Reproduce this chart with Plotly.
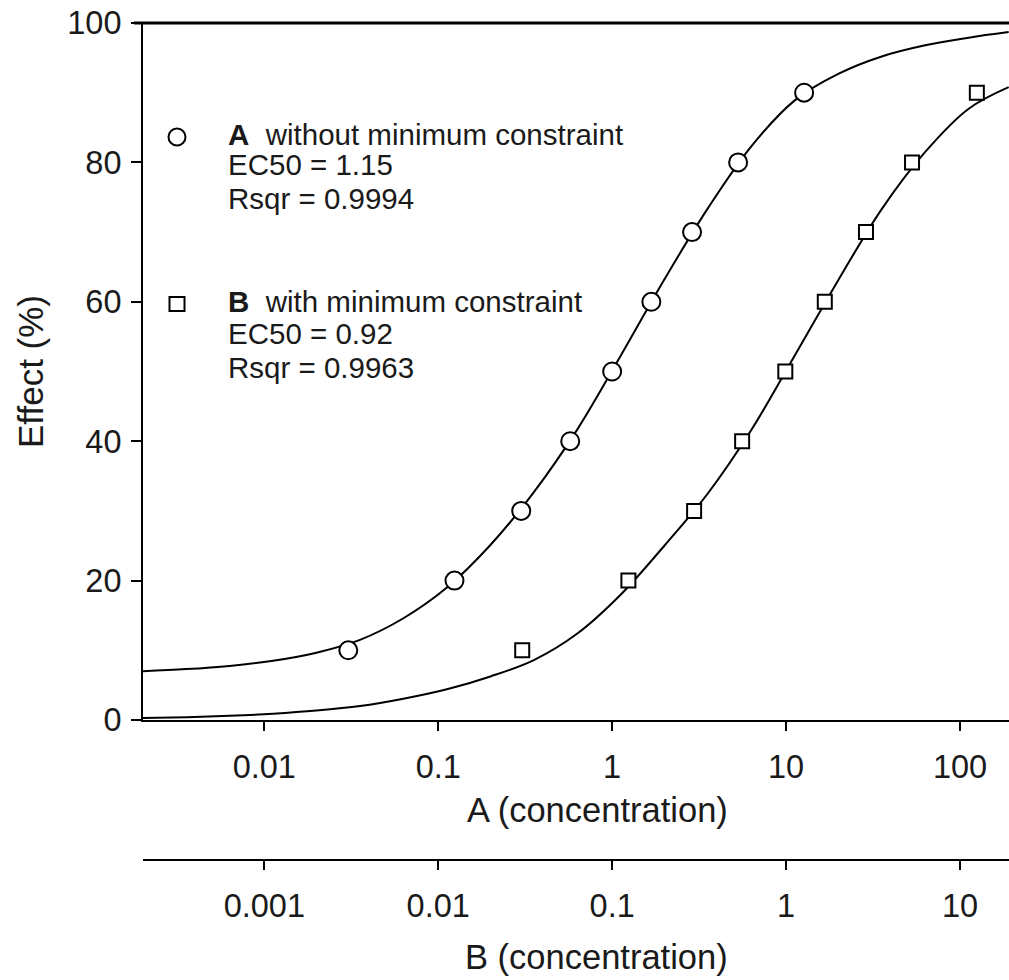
import plotly.graph_objects as go

# ---------------- data ----------------
effect_levels = [10, 20, 30, 40, 50, 60, 70, 80, 90]

# Data set A (plotted on the A concentration axis)
a_conc = [0.0304, 0.124, 0.30, 0.574, 1.0, 1.68, 2.88, 5.3, 12.7]
a_effect = effect_levels

# Data set B (plotted on the B concentration axis)
b_conc = [0.0304, 0.124, 0.296, 0.559, 0.99, 1.67, 2.88, 5.3, 12.5]
b_effect = effect_levels

# Fitted curve A (without minimum constraint)
a_fit_conc = [0.001995, 0.003548, 0.00631, 0.01122, 0.01995, 0.03548, 0.0631,
              0.1122, 0.1995, 0.3548, 0.631, 1.122, 1.995, 3.548, 6.31, 11.22,
              19.95, 35.48, 63.1, 112.2, 190.5]
a_fit_effect = [7.0, 7.3, 7.76, 8.5, 9.66, 11.5, 14.6,
                19.0, 25.1, 32.7, 41.7, 52.3, 63.2, 73.4, 82.3, 88.9,
                92.7, 95.2, 96.8, 97.9, 98.7]

# Fitted curve B (with minimum constraint)
b_fit_conc = [0.0001995, 0.0003548, 0.000631, 0.001122, 0.001995, 0.003548, 0.00631,
              0.01122, 0.01995, 0.03548, 0.0631, 0.1122, 0.1995, 0.3548, 0.631,
              1.122, 1.995, 3.548, 6.31, 11.22, 19.05]
b_fit_effect = [0.27, 0.40, 0.60, 0.90, 1.35, 2.0, 3.05,
                4.4, 6.25, 8.6, 12.4, 18.0, 25.0, 32.5, 41.6,
                52.3, 63.1, 73.3, 81.5, 87.7, 90.8]

a_tickvals = [0.01, 0.1, 1, 10, 100]
a_ticktext = ["0.01", "0.1", "1", "10", "100"]
b_tickvals = [0.001, 0.01, 0.1, 1, 10]
b_ticktext = ["0.001", "0.01", "0.1", "1", "10"]
y_tickvals = [0, 20, 40, 60, 80, 100]

legend_a = ["<b>A</b>  without minimum constraint", "EC50 = 1.15", "Rsqr = 0.9994"]
legend_b = ["<b>B</b>  with minimum constraint", "EC50 = 0.92", "Rsqr = 0.9963"]

# ---------------- layout geometry ----------------
W, H = 1009, 980
ML, MR, MT, MB = 143, 0, 23, 0
PW, PH = W - ML - MR, H - MT - MB


def px_x(px):
    return (px - ML) / PW


def px_y(py):
    return (H - MB - py) / PH


FONT = "Liberation Sans, Arial, sans-serif"
TXT = "#1a1a1a"

fig = go.Figure()

# fitted curves
fig.add_trace(go.Scatter(x=a_fit_conc, y=a_fit_effect, mode="lines",
                         line=dict(color="black", width=2, shape="spline", smoothing=1.0),
                         xaxis="x", yaxis="y", showlegend=False, hoverinfo="skip"))
fig.add_trace(go.Scatter(x=b_fit_conc, y=b_fit_effect, mode="lines",
                         line=dict(color="black", width=2, shape="spline", smoothing=1.0),
                         xaxis="x2", yaxis="y", showlegend=False, hoverinfo="skip"))

# data points
fig.add_trace(go.Scatter(x=a_conc, y=a_effect, mode="markers",
                         marker=dict(symbol="circle", size=18, color="white",
                                     line=dict(color="black", width=2)),
                         xaxis="x", yaxis="y", showlegend=False))
fig.add_trace(go.Scatter(x=b_conc, y=b_effect, mode="markers",
                         marker=dict(symbol="square", size=14, color="white",
                                     line=dict(color="black", width=2)),
                         xaxis="x2", yaxis="y", showlegend=False))

y_bottom = px_y(720)
x2_pos = px_y(860)

axis_common = dict(type="log", showgrid=False, zeroline=False, showline=True,
                   linecolor="black", linewidth=2, ticks="outside", ticklen=9,
                   tickwidth=2, tickcolor="black",
                   tickfont=dict(family=FONT, size=32.5, color=TXT),
                   automargin=False, ticklabelstandoff=8, ticklabeloverflow="allow")

fig.update_layout(
    width=W, height=H,
    margin=dict(l=ML, r=MR, t=MT, b=MB),
    paper_bgcolor="white", plot_bgcolor="white",
    template="none",
    showlegend=False,
    xaxis=dict(range=[-2.6975, 2.2818], tickvals=a_tickvals, ticktext=a_ticktext,
               anchor="y", **axis_common),
    xaxis2=dict(range=[-3.6975, 1.2818], tickvals=b_tickvals, ticktext=b_ticktext,
                overlaying="x", anchor="free", position=x2_pos, side="bottom",
                **axis_common),
    yaxis=dict(range=[0, 100], domain=[y_bottom, 1], tickvals=y_tickvals,
               showgrid=False, zeroline=False, showline=True, linecolor="black",
               linewidth=2, ticks="outside", ticklen=10, tickwidth=2, tickcolor="black",
               tickfont=dict(family=FONT, size=32.5, color=TXT),
               automargin=False, ticklabelstandoff=3, ticklabeloverflow="allow"),
)

# top frame line
fig.add_shape(type="line", xref="paper", yref="paper", x0=px_x(134), x1=1, y0=1, y1=1,
              line=dict(color="black", width=3))

annotations = []
# axis titles
annotations.append(dict(text="A (concentration)", x=px_x(597), y=px_y(810), xref="paper",
                        yref="paper", showarrow=False, xanchor="center", yanchor="middle",
                        font=dict(family=FONT, size=34.5, color=TXT)))
annotations.append(dict(text="B (concentration)", x=px_x(596), y=px_y(957), xref="paper",
                        yref="paper", showarrow=False, xanchor="center", yanchor="middle",
                        font=dict(family=FONT, size=34.5, color=TXT)))
annotations.append(dict(text="Effect (%)", x=px_x(30), y=px_y(372), xref="paper",
                        yref="paper", showarrow=False, xanchor="center", yanchor="middle",
                        textangle=-90, font=dict(family=FONT, size=35, color=TXT)))

# legend text lines
for lines, centers in ((legend_a, (134, 165, 198)), (legend_b, (302, 334, 367))):
    for t, cy in zip(lines, centers):
        annotations.append(dict(text=t, x=px_x(226), y=px_y(cy), xref="paper", yref="paper",
                                showarrow=False, xanchor="left", yanchor="middle",
                                font=dict(family=FONT, size=29.5, color=TXT)))
fig.update_layout(annotations=annotations)

# legend symbols
fig.add_shape(type="circle", xref="paper", yref="paper",
              x0=px_x(177 - 8.5), x1=px_x(177 + 8.5), y0=px_y(137 + 8.5), y1=px_y(137 - 8.5),
              line=dict(color="black", width=2), fillcolor="white")
fig.add_shape(type="rect", xref="paper", yref="paper",
              x0=px_x(177 - 7.5), x1=px_x(177 + 7.5), y0=px_y(304 + 7), y1=px_y(304 - 7),
              line=dict(color="black", width=2), fillcolor="white")

# remove the default page margin so the figure starts at the window's top-left corner
fig.write_html("out.html",
               config={"displayModeBar": False},
               post_script="document.body.style.margin='0';document.body.style.overflow='hidden';")
